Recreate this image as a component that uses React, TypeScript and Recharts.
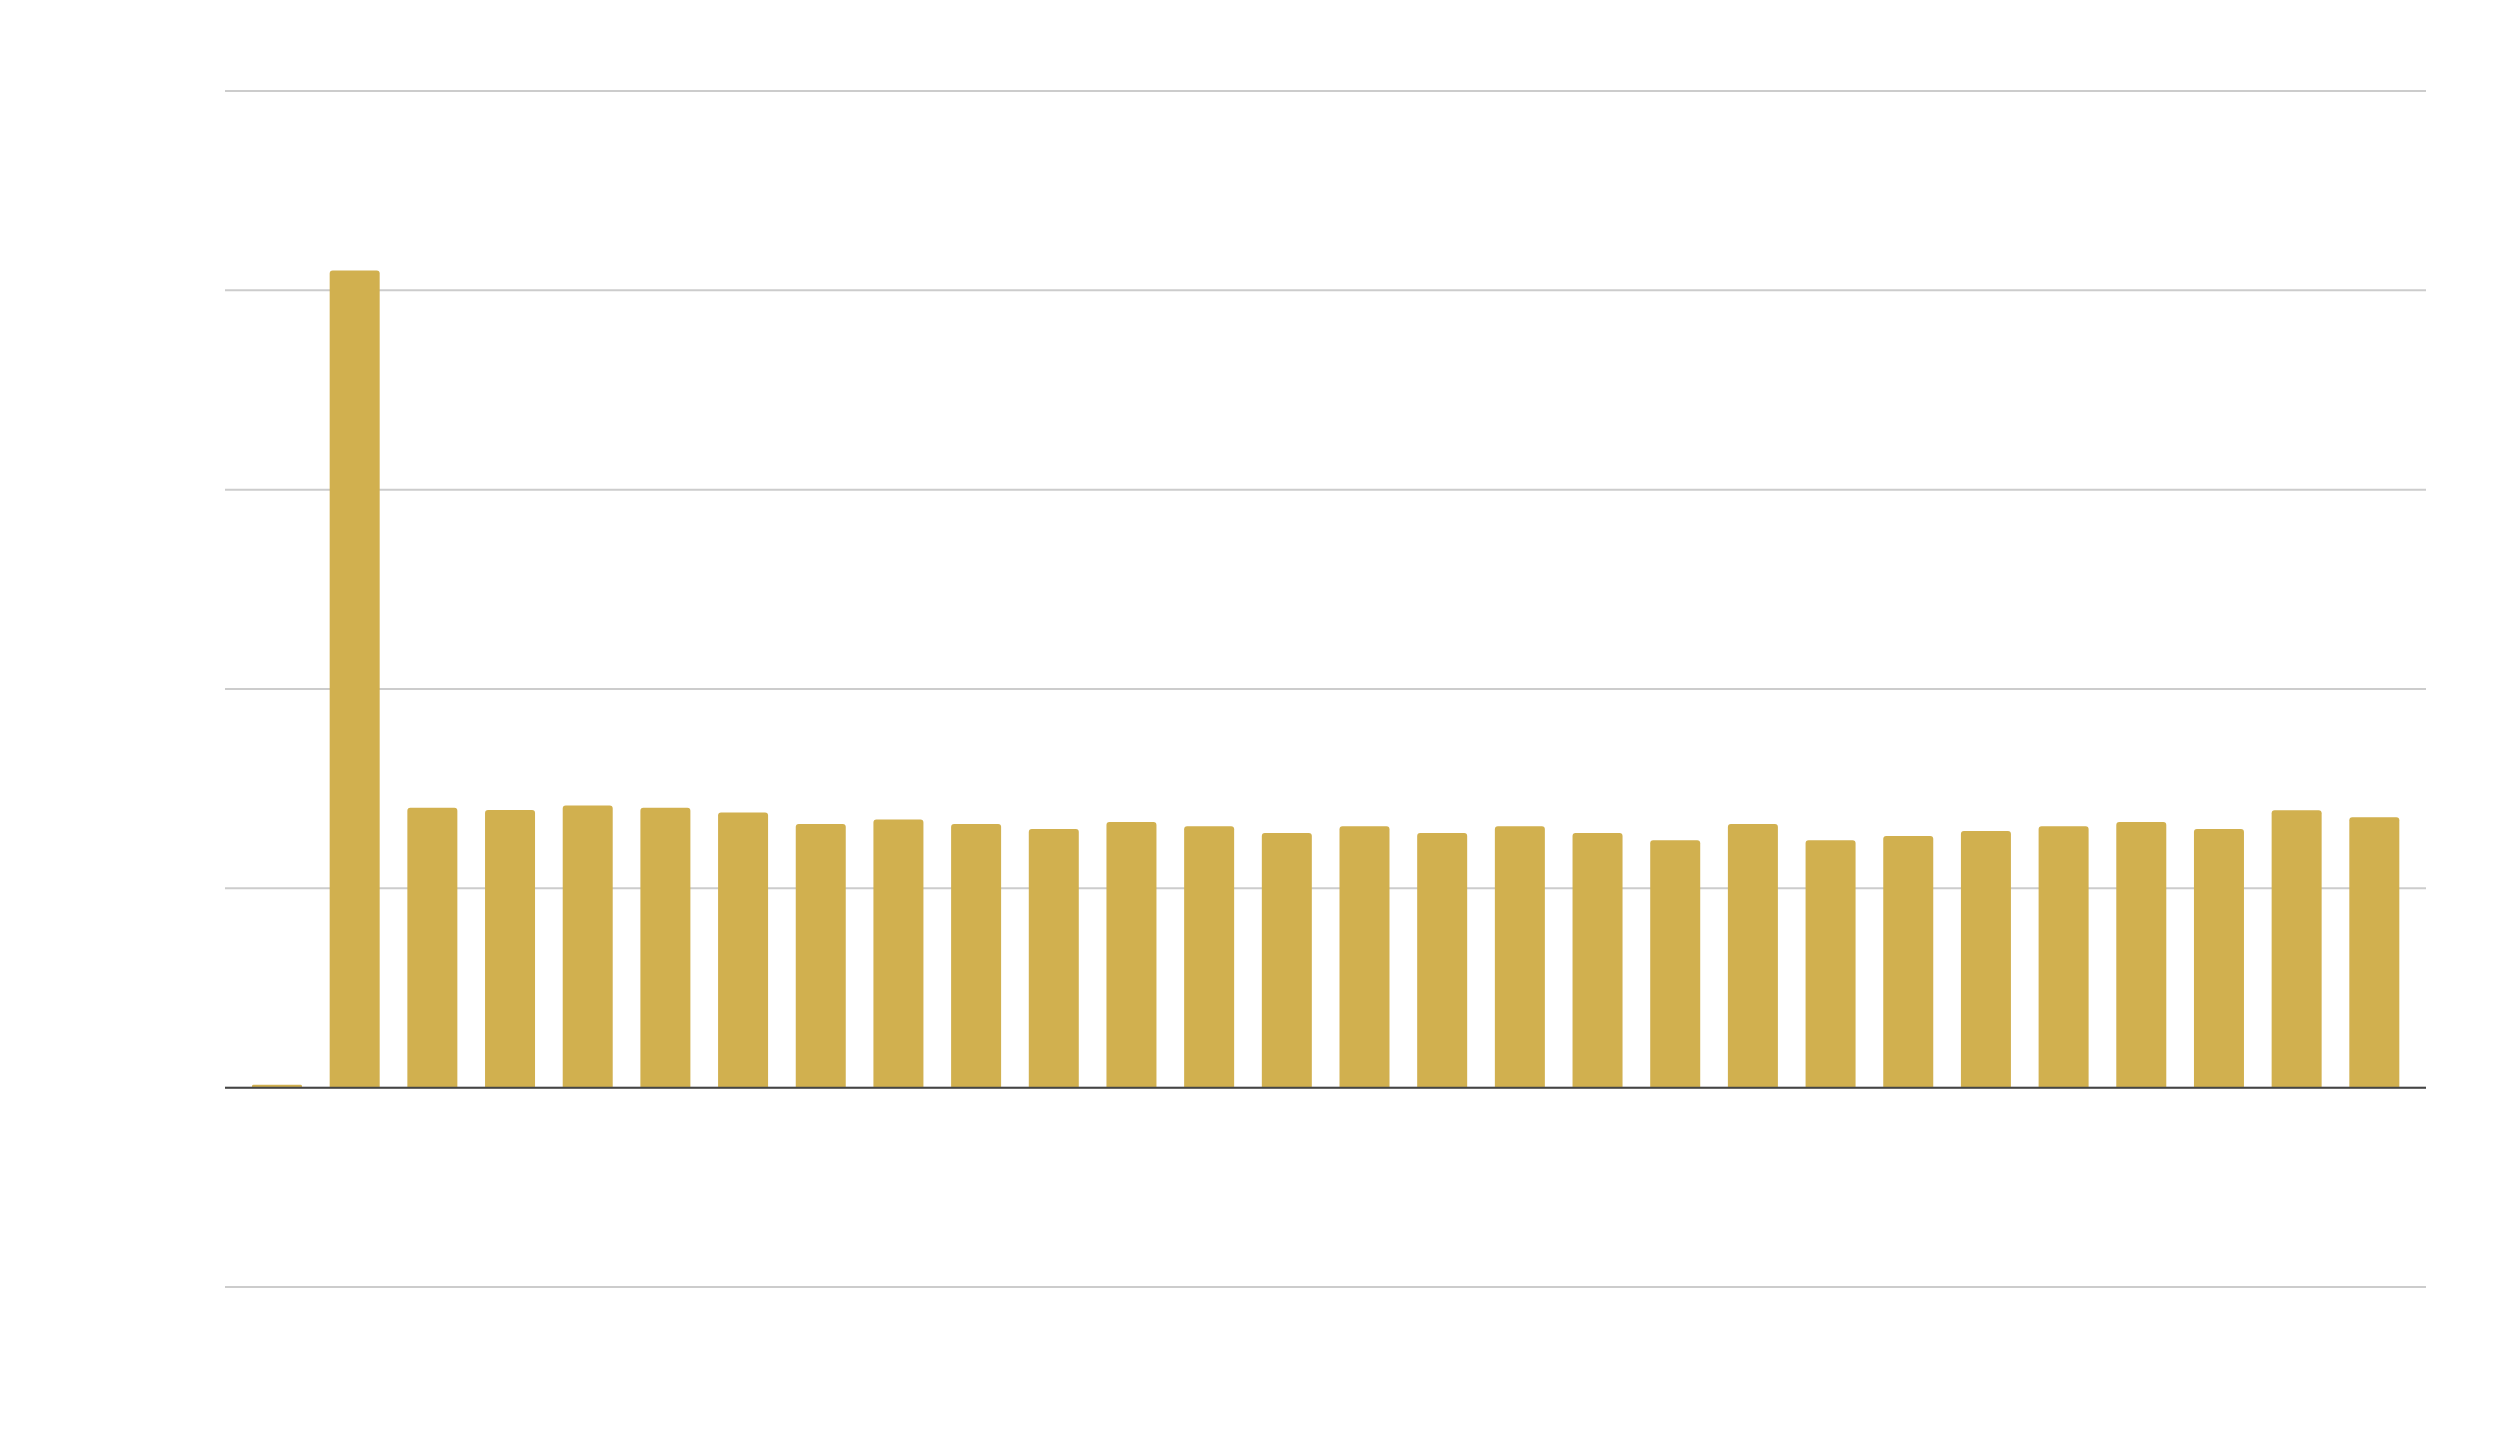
import { BarChart, Bar, XAxis, YAxis, CartesianGrid, ReferenceLine } from 'recharts';

const categories = [
  '1', '2', '3', '4', '5', '6', '7', '8', '9', '10', '11', '12', '13', '14',
  '15', '16', '17', '18', '19', '20', '21', '22', '23', '24', '25', '26', '27', '28',
];

const values = [
  0.015, 4.1, 1.404, 1.393, 1.415, 1.404, 1.38, 1.323, 1.345, 1.323, 1.298, 1.333, 1.312, 1.278,
  1.312, 1.278, 1.312, 1.278, 1.241, 1.323, 1.241, 1.263, 1.287, 1.312, 1.333, 1.298, 1.392, 1.357,
];

const yTicks = [-1, 0, 1, 2, 3, 4, 5];

const data = categories.map((name, i) => ({ name, value: values[i] }));

export default function App() {
  return (
    <div style={{ width: 2480, height: 1420 }}>
      <BarChart
        width={2480}
        height={1420}
        data={data}
        margin={{ top: 83, right: 62, bottom: 141, left: 217 }}
      >
        <CartesianGrid vertical={false} stroke="#cccccc" strokeWidth={2} />
        <XAxis dataKey="name" hide padding={{ left: 13, right: 13 }} />
        <YAxis hide domain={[-1, 5]} ticks={yTicks} />
        <ReferenceLine y={0} stroke="#444444" strokeWidth={2} />
        <Bar
          dataKey="value"
          fill="#d1b04f"
          barSize={50}
          radius={[3, 3, 0, 0]}
          isAnimationActive={false}
        />
      </BarChart>
    </div>
  );
}
